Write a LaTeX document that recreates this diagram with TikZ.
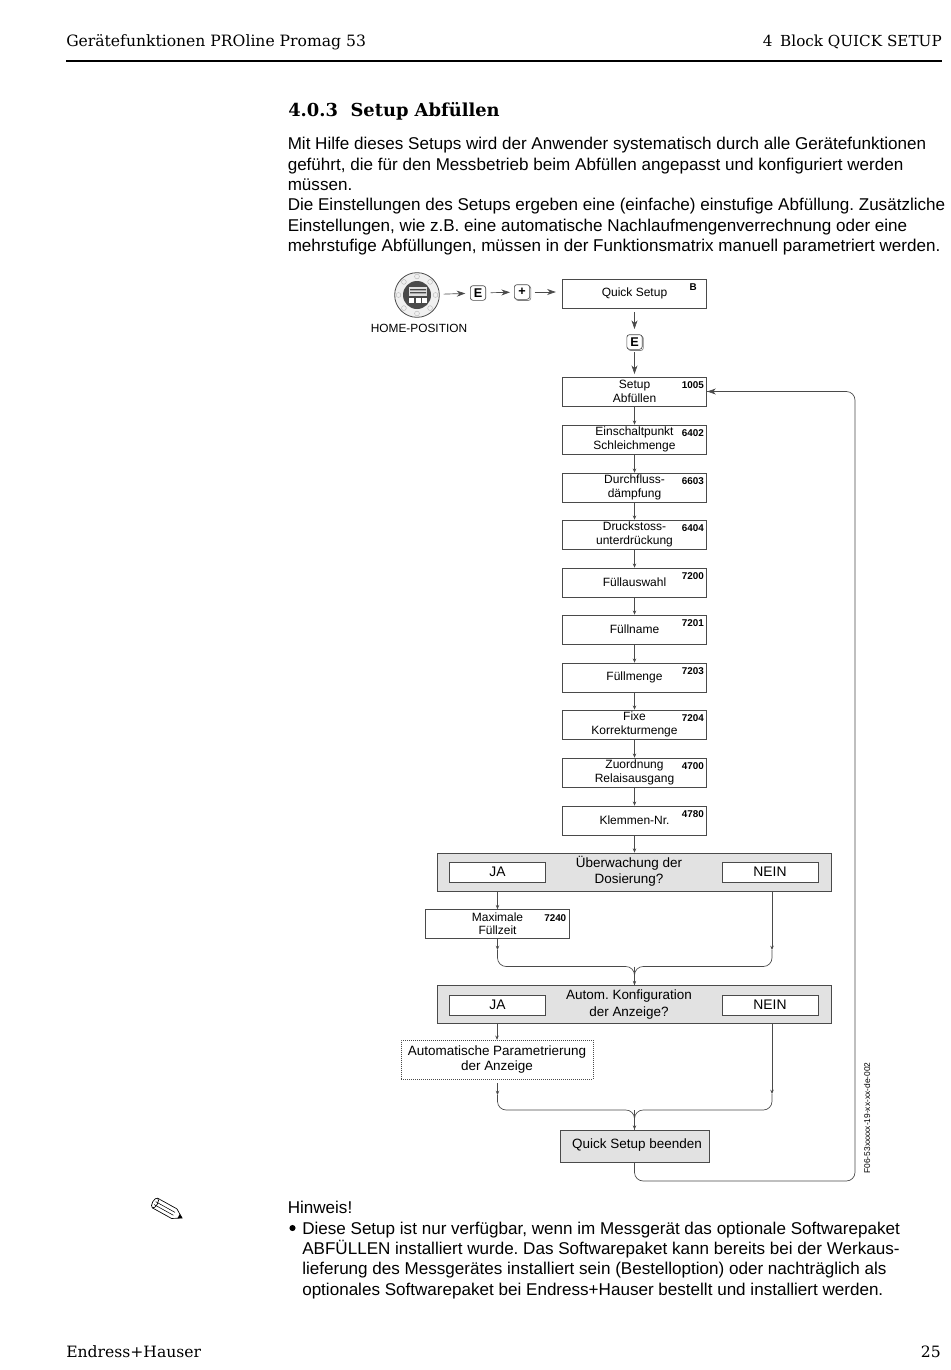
\documentclass[tikz,border=0pt]{standalone}
\usepackage{fontspec}
\setmainfont{Liberation Sans}
\newfontfamily\slabfont{DejaVu Serif}
\usetikzlibrary{arrows.meta,shadows}
\definecolor{linegray}{HTML}{4A4A4A}
\definecolor{panelgray}{HTML}{E2E2E2}
\tikzset{
  stepbox/.style={draw=linegray, line width=0.6pt, fill=white, minimum width=108.5pt, minimum height=21.6pt, inner sep=0pt, align=center, font=\fontsize{9}{10}\selectfont},
  numlabel/.style={anchor=east, inner sep=0pt, font=\fontsize{7.4}{8}\selectfont\bfseries},
  panelbox/.style={draw=linegray, line width=0.6pt, fill=panelgray, minimum width=296pt, minimum height=28.5pt, inner sep=0pt},
  answerbox/.style={draw=linegray, line width=0.5pt, fill=white, minimum width=72pt, minimum height=15pt, inner sep=0pt, font=\fontsize{10.4}{12}\selectfont},
  asktext/.style={inner sep=0pt, align=center, font=\fontsize{10.1}{12.2}\selectfont},
  keybox/.style={draw=linegray, line width=0.5pt, fill=white, rounded corners=2pt, minimum width=11.5pt, minimum height=11pt, inner sep=0pt, font=\fontsize{9.5}{10}\selectfont\bfseries},
  keyshadow/.style={copy shadow={shadow xshift=0.9pt, shadow yshift=-0.9pt, draw=gray, fill=white}},
  flow/.style={draw=linegray, line width=0.5pt, -{Stealth[length=3.2pt,width=2.6pt]}},
  bigflow/.style={draw=linegray, line width=0.5pt, -{Stealth[length=6.5pt,width=4.5pt]}},
  plainline/.style={draw=linegray, line width=0.5pt, rounded corners=6.5pt},
  bodytext/.style={anchor=north west, inner sep=0pt, align=left, font=\fontsize{12.8}{15.3}\selectfont},
  slabtext/.style={inner sep=0pt, font=\slabfont\fontsize{11.7}{13}\selectfont},
}
\begin{document}
\frenchspacing
\begin{tikzpicture}[x=0.75pt, y=-0.75pt]
    \useasboundingbox (0,0) rectangle (950,1370);
    % Kopfzeile
    \node[slabtext, anchor=base west] (headleft) at (66,47) {Gerätefunktionen PROline Promag 53};
    \node[slabtext, anchor=base east, font=\slabfont\fontsize{11.4}{13}\selectfont] (headright) at (942,47) {4\hspace{0.5em}Block QUICK SETUP};
    \draw[line width=0.9pt] (66,61) -- (942,61);
    \node[anchor=base west, inner sep=0pt, font=\slabfont\fontsize{13.4}{16}\selectfont\bfseries] (title) at (288,117) {4.0.3\hspace{0.7em}Setup Abfüllen};

    % Text oben
    \node[bodytext] (intro) at (287.5,137) {Mit Hilfe dieses Setups wird der Anwender systematisch durch alle Gerätefunktionen\\
        geführt, die für den Messbetrieb beim Abfüllen angepasst und konfiguriert werden\\
        müssen.\\
        Die Einstellungen des Setups ergeben eine (einfache) einstufige Abfüllung. Zusätzliche\\
        Einstellungen, wie z.B. eine automatische Nachlaufmengenverrechnung oder eine\\
        mehrstufige Abfüllungen, müssen in der Funktionsmatrix manuell parametriert werden.};

    % Home-Position
    \node[circle, draw=linegray, line width=0.6pt, fill=gray!12, minimum size=33.5pt, inner sep=0pt] (home) at (417,295) {};
    \foreach \w in {0,45,...,315}
        \draw[gray!60, line width=0.3pt] (home) ++(\w:18.5) circle (2.4);
    \fill[linegray] (home) circle (10.5pt);
    \fill[gray!25] (409,287) rectangle (427,296);
    \fill[linegray] (410,289) rectangle (426,290.3) (410,292) rectangle (426,293.3);
    \foreach \xkey in {411.5,418,424.5}
        \fill[white] (\xkey-2.5,298) rectangle (\xkey+2.5,303);
    \node[inner sep=0pt, font=\fontsize{8.9}{10}\selectfont] (homelabel) at (419,328) {HOME-POSITION};

    % Tasten
    \node[keybox] (keyE) at (478,293) {E};
    \node[keybox, keyshadow] (keyPlus) at (522,292) {+};
    \node[keybox, keyshadow] (keyEdown) at (634.5,342) {E};

    % Boxen mit Nummer
    \node[stepbox] (quick) at (634.5,293.5) {Quick Setup};
    \node[numlabel] (nquick) at (697,287) {B};
    \foreach \name/\ypos/\num/\txt in {
        setup/391.5/1005/{Setup\\Abfüllen},
        einschalt/439.5/6402/{Einschaltpunkt\\Schleichmenge},
        daempfung/487.5/6603/{Durchfluss-\\dämpfung},
        druck/534.5/6404/{Druckstoss-\\unterdrückung},
        auswahl/582.5/7200/{Füllauswahl},
        fname/629.5/7201/{Füllname},
        fmenge/677.5/7203/{Füllmenge},
        fixe/724.5/7204/{Fixe\\Korrekturmenge},
        relais/772.5/4700/{Zuordnung\\Relaisausgang},
        klemmen/820.5/4780/{Klemmen-Nr.}}
    {
        \node[stepbox] (\name) at (634.5,\ypos) {\txt};
        \node[numlabel] (n\name) at (704,\ypos-6.5) {\num};
    }
    \foreach \a/\b in {setup/einschalt,einschalt/daempfung,daempfung/druck,druck/auswahl,auswahl/fname,fname/fmenge,fmenge/fixe,fixe/relais,relais/klemmen}
        \draw[flow] (\a) -- (\b);

    % Abfragen
    \node[panelbox] (frageA) at (634.5,872) {};
    \node[answerbox] (jaA) at (497.5,872) {JA};
    \node[answerbox] (neinA) at (770,872) {NEIN};
    \node[asktext] (textA) at (629,871.5) {Überwachung der\\Dosierung?};
    \node[stepbox] (maxzeit) at (497.5,924) {Maximale\\Füllzeit};
    \node[numlabel] (nmaxzeit) at (566.5,918) {7240};

    \node[panelbox] (frageB) at (634.5,1004.5) {};
    \node[answerbox] (jaB) at (497.5,1005) {JA};
    \node[answerbox] (neinB) at (770,1005) {NEIN};
    \node[asktext] (textB) at (629,1004.5) {Autom. Konfiguration\\der Anzeige?};
    \node[draw=linegray, densely dotted, line width=0.5pt, minimum width=144pt, minimum height=29pt, inner sep=0pt, align=center, font=\fontsize{10.1}{11.3}\selectfont] (autopar) at (497,1059.5) {Automatische Parametrierung\\der Anzeige};

    \node[draw=linegray, line width=0.6pt, fill=panelgray, minimum width=112pt, minimum height=24pt, inner sep=0pt] (ende) at (635,1146) {};
    \node[inner sep=0pt, font=\fontsize{10.1}{12}\selectfont] (endetext) at (637,1145.5) {Quick Setup beenden};

    % Hilfspunkte
    \coordinate (rechtsA) at (772,891.5);
    \coordinate (tipAl) at (497.5,950);
    \coordinate (tipAr) at (772,950);
    \coordinate (mergeA) at (634.5,966.5);
    \coordinate (rechtsB) at (772,1024);
    \coordinate (startBl) at (497.5,1083);
    \coordinate (tipBl) at (497.5,1095);
    \coordinate (tipBr) at (772,1094);
    \coordinate (mergeB) at (634.5,1110);
    \coordinate (cornerR) at (855,1181);
    \coordinate (backR) at (855,391.5);

    % Pfeile
    \draw[bigflow, shorten <=3pt, shorten >=3.5pt] (home) -- (keyE);
    \draw[bigflow, shorten <=3.5pt, shorten >=3pt] (keyE) -- (keyPlus);
    \draw[bigflow, shorten <=3.5pt, shorten >=4.5pt] (keyPlus) -- (keyPlus -| quick.west);
    \draw[bigflow, shorten <=3pt, shorten >=4pt] (quick) -- (keyEdown);
    \draw[bigflow, shorten <=2pt, shorten >=2pt] (keyEdown) -- (setup);
    \draw[flow] (klemmen) -- (frageA);
    \draw[flow] (frageA.south -| maxzeit) -- (maxzeit);
    \draw[flow] (maxzeit) -- (tipAl);
    \draw[flow] (rechtsA) -- (tipAr);
    \draw[plainline] (tipAl) |- (mergeA) -- (mergeA |- frageB.north);
    \draw[plainline] (tipAr) |- (mergeA) -- (mergeA |- frageB.north);
    \draw[flow] (mergeA) -- (frageB);
    \draw[flow] (frageB.south -| autopar) -- (autopar);
    \draw[flow] (startBl) -- (tipBl);
    \draw[flow] (rechtsB) -- (tipBr);
    \draw[plainline] (tipBl) |- (mergeB) -- (mergeB |- ende.north);
    \draw[plainline] (tipBr) |- (mergeB) -- (mergeB |- ende.north);
    \draw[flow] (mergeB) -- (mergeB |- ende.north);
    \draw[plainline] (mergeB |- ende.south) |- (cornerR) -- (backR) -- (setup);
    \draw[bigflow] (backR) ++(-10,0) -- (setup);

    % Zeichnungsnummer
    \node[rotate=90, inner sep=0pt, font=\fontsize{6.3}{7}\selectfont] (drawno) at (867,1118) {F06-53xxxxx-19-xx-xx-de-002};

    % Bleistift
    \begin{scope}[shift={(155,1203)}, rotate=-29]
        \draw[line width=0.5pt, fill=white] (0,-5.5) -- (22,-5.5) -- (31,0) -- (22,5.5) -- (0,5.5);
        \draw[line width=0.5pt] (0,0) ellipse (2.6 and 5.5);
        \draw[line width=0.4pt] (0,-1.5) -- (22,-1.5);
        \draw[line width=0.4pt] (0,1.8) -- (22,1.8);
        \fill (27,-2.4) -- (31,0) -- (27,2.4) -- cycle;
    \end{scope}

    % Hinweis
    \node[bodytext] (hinweis) at (287.5,1201) {Hinweis!};
    \node[circle, fill=black, minimum size=4.6pt, inner sep=0pt] (bullet) at (292.5,1228) {};
    \node[bodytext] (hinweistext) at (302,1221.4) {Diese Setup ist nur verfügbar, wenn im Messgerät das optionale Softwarepaket\\
        ABFÜLLEN installiert wurde. Das Softwarepaket kann bereits bei der Werkaus-\\
        lieferung des Messgerätes installiert sein (Bestelloption) oder nachträglich als\\
        optionales Softwarepaket bei Endress+Hauser bestellt und installiert werden.};

    % Fusszeile
    \node[slabtext, anchor=base west] (footleft) at (66,1357) {Endress+Hauser};
    \node[slabtext, anchor=base east] (footright) at (941,1357) {25};
\end{tikzpicture}
\end{document}
